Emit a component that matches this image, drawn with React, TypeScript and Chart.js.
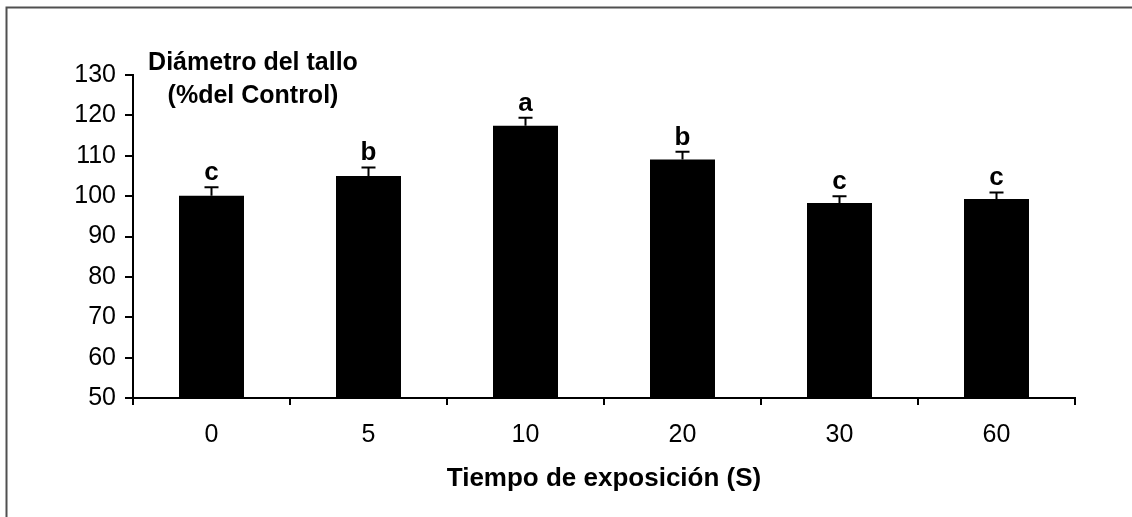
import React, { useEffect, useRef } from 'react';
import { Chart, registerables } from 'chart.js';

Chart.register(...registerables);

const categories = ['0', '5', '10', '20', '30', '60'];
const means = [100.1, 105.0, 117.4, 109.1, 98.3, 99.3];
const errors = [2.1, 2.1, 2.0, 1.9, 1.7, 1.6];
const letters = ['c', 'b', 'a', 'b', 'c', 'c'];
const yTitleLines = ['Diámetro del tallo', '(%del Control)'];
const xTitle = 'Tiempo de exposición (S)';
const yMin = 50;
const yMax = 130;
const yStep = 10;

const FONT = '"Liberation Sans", Arial, Helvetica, sans-serif';

const decorPlugin = {
  id: 'decor',
  beforeDraw(chart: any) {
    const ctx = chart.ctx;
    ctx.save();
    ctx.fillStyle = '#ffffff';
    ctx.fillRect(0, 0, chart.width, chart.height);
    ctx.strokeStyle = '#505050';
    ctx.lineWidth = 2;
    ctx.beginPath();
    ctx.moveTo(6.5, chart.height);
    ctx.lineTo(6.5, 7.5);
    ctx.lineTo(chart.width, 7.5);
    ctx.stroke();
    ctx.restore();
  },
  afterDatasetsDraw(chart: any) {
    const ctx = chart.ctx;
    const meta = chart.getDatasetMeta(0);
    const y = chart.scales.y;
    ctx.save();
    ctx.strokeStyle = '#000';
    ctx.fillStyle = '#000';
    ctx.lineWidth = 2;
    meta.data.forEach((bar: any, i: number) => {
      const top = y.getPixelForValue(means[i]);
      const capY = y.getPixelForValue(means[i] + errors[i]);
      ctx.beginPath();
      ctx.moveTo(bar.x, top);
      ctx.lineTo(bar.x, capY);
      ctx.moveTo(bar.x - 7, capY);
      ctx.lineTo(bar.x + 7, capY);
      ctx.stroke();
      ctx.font = `bold 26px ${FONT}`;
      ctx.textAlign = 'center';
      ctx.textBaseline = 'alphabetic';
      ctx.fillText(letters[i], bar.x, capY - 7);
    });
    const area = chart.chartArea;
    ctx.font = `bold 25px ${FONT}`;
    ctx.textAlign = 'center';
    ctx.textBaseline = 'alphabetic';
    const tx = area.left + 120;
    ctx.fillText(yTitleLines[0], tx, area.top - 5);
    ctx.fillText(yTitleLines[1], tx, area.top + 28);
    ctx.font = `bold 26px ${FONT}`;
    ctx.fillText(xTitle, (area.left + area.right) / 2, area.bottom + 88);
    ctx.restore();
  },
};

export default function App() {
  const ref = useRef<HTMLCanvasElement>(null);
  useEffect(() => {
    if (!ref.current) return;
    const chart = new Chart(ref.current, {
      type: 'bar',
      data: {
        labels: categories,
        datasets: [
          {
            data: means,
            backgroundColor: '#000000',
            borderColor: '#000000',
            borderWidth: 0,
            barPercentage: 0.414,
            categoryPercentage: 1,
          },
        ],
      },
      options: {
        responsive: false,
        animation: false,
        layout: { padding: { top: 75, right: 57, bottom: 0, left: 0 } },
        plugins: {
          legend: { display: false },
          tooltip: { enabled: false },
          title: { display: false },
        },
        scales: {
          x: {
            offset: true,
            grid: {
              display: true,
              offset: true,
              drawOnChartArea: false,
              drawTicks: true,
              tickLength: 7,
              color: '#000',
              lineWidth: 2,
            },
            border: { display: true, color: '#000', width: 2 },
            ticks: {
              color: '#000',
              font: { family: FONT, size: 25 },
              padding: 15,
            },
            afterFit(scale: any) {
              scale.height = 119;
            },
          },
          y: {
            min: yMin,
            max: yMax,
            grid: {
              display: true,
              drawOnChartArea: false,
              drawTicks: true,
              tickLength: 8,
              color: '#000',
              lineWidth: 2,
            },
            border: { display: true, color: '#000', width: 2 },
            ticks: {
              stepSize: yStep,
              color: '#000',
              font: { family: FONT, size: 25 },
              padding: 9,
            },
            afterFit(scale: any) {
              scale.width = 133;
            },
          },
        },
      },
      plugins: [decorPlugin],
    });
    return () => chart.destroy();
  }, []);
  return (
    <div style={{ position: 'fixed', left: 0, top: 0, width: 1132, height: 517, background: '#fff' }}>
      <canvas ref={ref} width={1132} height={517} style={{ width: 1132, height: 517, display: 'block' }} />
    </div>
  );
}
